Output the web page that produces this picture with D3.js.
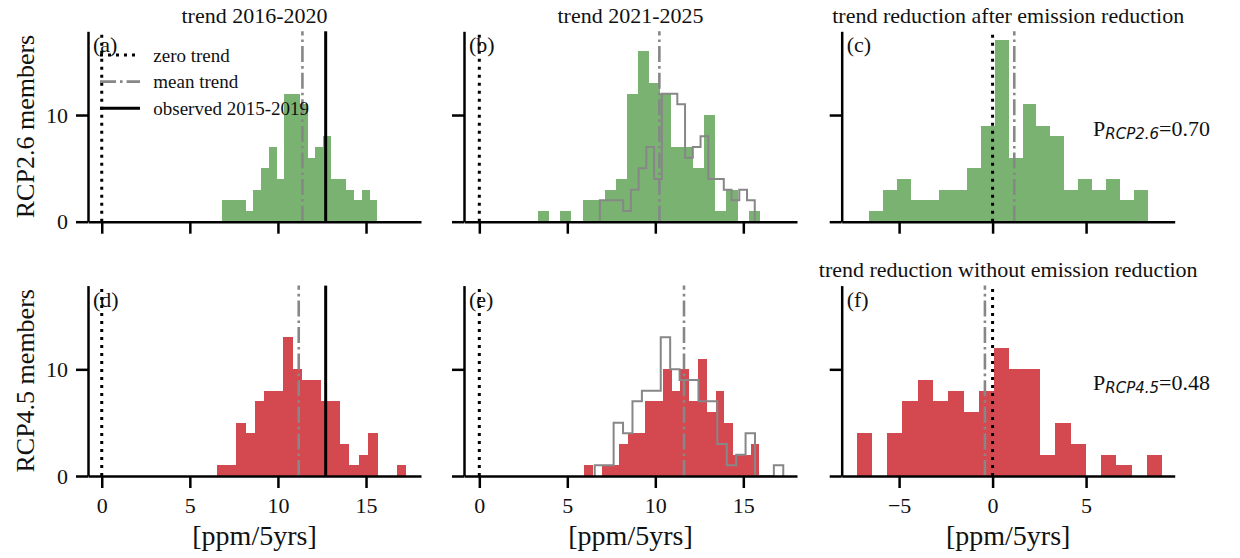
<!DOCTYPE html>
<html>
<head>
<meta charset="utf-8">
<script src="https://cdn.jsdelivr.net/npm/d3@7"></script>
<style>
  body { margin: 0; background: #fff; }
  svg text { font-family: "Liberation Serif", "Times New Roman", serif; fill: #111; }
</style>
</head>
<body>
<div id="chart"></div>
<script>
/**
 * DATA
 * each histogram has 20 equal bins between the two range values
 **/
const countsA = [2, 2, 2, 1, 3, 5, 7, 4, 12, 12, 11, 6, 7, 8, 4, 4, 3, 2, 3, 2];
const rangeA = [6.85, 15.65];
const countsB = [1, 0, 1, 0, 2, 2, 3, 4, 12, 16, 13, 12, 7, 7, 5, 10, 1, 3, 0, 1];
const rangeB = [3.35, 15.93];
const countsC = [1, 3, 4, 2, 2, 3, 3, 5, 9, 17, 6, 11, 9, 8, 3, 4, 3, 4, 2, 3];
const rangeC = [-6.61, 8.32];
const countsD = [1, 1, 5, 4, 7, 8, 8, 13, 10, 9, 9, 7, 7, 3, 1, 2, 4, 0, 0, 1];
const rangeD = [6.56, 17.27];
const countsE = [1, 0, 1, 1, 3, 4, 4, 7, 7, 10, 8, 10, 7, 11, 6, 8, 5, 2, 2, 3];
const rangeE = [5.95, 15.91];
const countsF = [4, 0, 4, 7, 9, 7, 8, 6, 8, 12, 10, 10, 2, 5, 3, 0, 2, 1, 0, 2];
const rangeF = [-7.27, 9.07];

const meanTrends = [11.39, 10.23, 1.16, 11.18, 11.63, -0.41];
const observedTrend = 12.71;
const probabilities = ["0.70", "0.48"];
const scenarios = ["RCP2.6", "RCP4.5"];
const panelLetters = ["(a)", "(b)", "(c)", "(d)", "(e)", "(f)"];
const panelTitles = ["trend 2016-2020", "trend 2021-2025", "trend reduction after emission reduction",
                     null, null, "trend reduction without emission reduction"];
const xTicks = [[0, 5, 10, 15], [0, 5, 10, 15], [-5, 0, 5]];
const yTicks = [0, 10];
const legendLabels = ["zero trend", "mean trend", "observed 2015-2019"];

/**
 * CONSTANTS
 **/
const width = 1240, height = 558,
  colLeft = [88, 464, 841.7], axW = 333,
  rowTop = [31.3, 285.6], axH = 190.4,
  xDomains = [[-0.78, 18.12], [-0.87, 18.05], [-8.07, 9.74]],
  yMax = 17.85,
  green = "#7ab272", red = "#d4484f", grey = "#878787";

const panels = [
  { counts: countsA, range: rangeA, ghost: null },
  { counts: countsB, range: rangeB, ghost: [countsA, rangeA] },
  { counts: countsC, range: rangeC, ghost: null },
  { counts: countsD, range: rangeD, ghost: null },
  { counts: countsE, range: rangeE, ghost: [countsD, rangeD] },
  { counts: countsF, range: rangeF, ghost: null }
].map((p, i) => ({
  ...p,
  row: Math.floor(i / 3), col: i % 3,
  mean: meanTrends[i],
  letter: panelLetters[i],
  title: panelTitles[i]
}));

const toBins = (counts, range) => {
  const w = (range[1] - range[0]) / counts.length;
  return counts.map((c, i) => ({ x0: range[0] + i * w, x1: range[0] + (i + 1) * w, n: c }));
};

const svg = d3.select("#chart")
  .append("svg")
  .attr("width", width)
  .attr("height", height);

panels.forEach((p, i) => {
  const left = colLeft[p.col], top = rowTop[p.row];
  const xScale = d3.scaleLinear().domain(xDomains[p.col]).range([0, axW]);
  const yScale = d3.scaleLinear().domain([0, yMax]).range([axH, 0]);
  const g = svg.append("g").attr("transform", `translate(${left},${top})`);
  const fill = p.row === 0 ? green : red;

  // bars
  g.selectAll("rect.bar")
    .data(toBins(p.counts, p.range).filter(d => d.n > 0))
    .join("rect")
    .attr("class", "bar")
    .attr("x", d => xScale(d.x0))
    .attr("width", d => xScale(d.x1) - xScale(d.x0))
    .attr("y", d => yScale(d.n))
    .attr("height", d => yScale(0) - yScale(d.n))
    .attr("fill", fill)
    .attr("shape-rendering", "crispEdges");

  // outline of the earlier period
  if (p.ghost) {
    const bins = toBins(p.ghost[0], p.ghost[1]);
    const pts = [[bins[0].x0, 0]];
    bins.forEach(b => { pts.push([b.x0, b.n]); pts.push([b.x1, b.n]); });
    pts.push([bins[bins.length - 1].x1, 0]);
    g.append("path")
      .attr("d", d3.line().x(d => xScale(d[0])).y(d => yScale(d[1]))(pts))
      .attr("fill", "none")
      .attr("stroke", grey)
      .attr("stroke-width", 2);
  }

  // vertical reference lines
  const vline = (v, color, lw, dash) => g.append("line")
    .attr("x1", xScale(v)).attr("x2", xScale(v))
    .attr("y1", axH).attr("y2", 0)
    .attr("stroke", color)
    .attr("stroke-width", lw)
    .attr("stroke-dasharray", dash);
  vline(0, "#000", 3, "3,5");
  vline(p.mean, grey, 2.6, "16,4,2.6,4");
  if (p.col === 0) vline(observedTrend, "#000", 3, null);

  // axes
  const xAxis = d3.axisBottom(xScale)
    .tickValues(xTicks[p.col])
    .tickSize(12).tickSizeOuter(0).tickPadding(9)
    .tickFormat(p.row === 1 ? d3.format("d") : "");
  const yAxis = d3.axisLeft(yScale)
    .tickValues(yTicks)
    .tickSize(12).tickSizeOuter(0).tickPadding(8)
    .tickFormat(p.col === 0 ? d3.format("d") : "");

  [g.append("g").attr("transform", `translate(0,${axH})`).call(xAxis),
   g.append("g").call(yAxis)].forEach(ax => {
    ax.selectAll("path, line").attr("stroke", "#000").attr("stroke-width", 2.5);
    ax.selectAll("text")
      .style("font-family", '"Liberation Serif", serif')
      .style("font-size", "22px")
      .attr("fill", "#111");
  });

  // panel letter
  g.append("text")
    .attr("x", 5).attr("y", 21)
    .style("font-size", "22px")
    .text(p.letter);

  if (p.title) {
    g.append("text")
      .attr("x", axW / 2).attr("y", -8.5)
      .attr("text-anchor", "middle")
      .style("font-size", "22px")
      .text(p.title);
  }

  if (p.row === 1) {
    g.append("text")
      .attr("x", axW / 2).attr("y", axH + 69)
      .attr("text-anchor", "middle")
      .style("font-size", "28px")
      .text("[ppm/5yrs]");
  }

  if (p.col === 0) {
    g.append("text")
      .attr("transform", `translate(${-54.5},${axH / 2}) rotate(-90)`)
      .attr("text-anchor", "middle")
      .style("font-size", "26px")
      .text(`${scenarios[p.row]} members`);
  }

  if (p.col === 2) {
    const t = g.append("text")
      .attr("x", 251.3).attr("y", 104.7)
      .style("font-size", "22px");
    t.append("tspan").text("P");
    t.append("tspan")
      .attr("dy", 3)
      .style("font-family", '"DejaVu Sans", sans-serif')
      .style("font-style", "italic")
      .style("font-size", "15px")
      .text(scenarios[p.row]);
    t.append("tspan").attr("dy", -3).text("=" + probabilities[p.row]);
  }

  // legend in first panel
  if (i === 0) {
    const styles = [
      { color: "#000", lw: 3, dash: "3,5" },
      { color: grey, lw: 2.6, dash: "16,4,2.6,4" },
      { color: "#000", lw: 3, dash: null }
    ];
    legendLabels.forEach((lab, k) => {
      const yy = 23.7 + k * 26.6;
      g.append("line")
        .attr("x1", 12).attr("x2", 52)
        .attr("y1", yy).attr("y2", yy)
        .attr("stroke", styles[k].color)
        .attr("stroke-width", styles[k].lw)
        .attr("stroke-dasharray", styles[k].dash);
      g.append("text")
        .attr("x", 65.3).attr("y", yy + 6.8)
        .style("font-size", "19px")
        .text(lab);
    });
  }
});
</script>
</body>
</html>
